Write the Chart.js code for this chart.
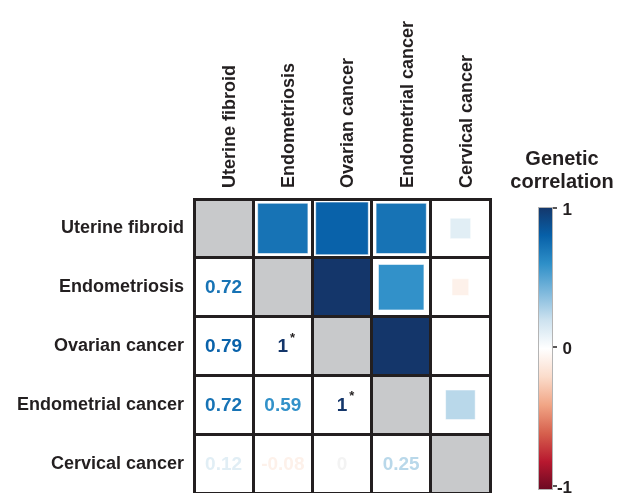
<!DOCTYPE html>
<html>
<head>
<meta charset="utf-8">
<script src="https://cdn.jsdelivr.net/npm/chart.js@4.4.0/dist/chart.umd.min.js"></script>
<style>
  html, body { margin: 0; padding: 0; background: #fff; }
  #wrap { width: 619px; height: 493px; }
</style>
</head>
<body>
<div id="wrap"><canvas id="corr"></canvas></div>
<script>
var traits = ['Uterine fibroid', 'Endometriosis', 'Ovarian cancer', 'Endometrial cancer', 'Cervical cancer'];

// genetic correlation, one row per trait (symmetric)
var rgUterine = [1, 0.72, 0.79, 0.72, 0.12];
var rgEndometriosis = [0.72, 1, 1, 0.59, -0.08];
var rgOvarian = [0.79, 1, 1, 1, 0];
var rgEndometrial = [0.72, 0.59, 1, 1, 0.25];
var rgCervical = [0.12, -0.08, 0, 0.25, 1];

// [row, col] of the lower cells marked with *
var starred = [[2, 1], [3, 2]];

var legendTicks = [1, 0, -1];
var legendTitle = ['Genetic', 'correlation'];

// red-white-blue ramp, -1 .. 1 in steps of 0.2
var ramp = ['#6a0a22', '#b8182f', '#d6604d', '#f1a585', '#fbdccb', '#ffffff',
  '#cde2ef', '#7db8dc', '#2e8fc8', '#0760a8', '#14366a'];

var matrix = [rgUterine, rgEndometriosis, rgOvarian, rgEndometrial, rgCervical];
var ink = '#231f20';
var fontFamily = '"Liberation Sans", Arial, sans-serif';

function hexRgb(h) {
  return [parseInt(h.substr(1, 2), 16), parseInt(h.substr(3, 2), 16), parseInt(h.substr(5, 2), 16)];
}

function rampColor(v) {
  var t = (Math.max(-1, Math.min(1, v)) + 1) / 2 * (ramp.length - 1);
  var i = Math.min(Math.floor(t), ramp.length - 2), f = t - i;
  var a = hexRgb(ramp[i]), b = hexRgb(ramp[i + 1]);
  return 'rgb(' + [0, 1, 2].map(function (k) { return Math.round(a[k] + (b[k] - a[k]) * f); }).join(',') + ')';
}

function isStarred(i, j) {
  return starred.some(function (s) { return s[0] === i && s[1] === j; });
}

function pitch(chart) {
  var xs = chart.scales.x;
  return Math.abs(xs.getPixelForValue(1) - xs.getPixelForValue(0));
}

var diagPts = traits.map(function (t) { return {x: t, y: t}; });
var upperPts = [];
matrix.forEach(function (row, i) {
  row.forEach(function (v, j) {
    if (j > i) upperPts.push({x: traits[j], y: traits[i], v: v});
  });
});

var cellText = {
  id: 'cellText',
  afterDraw: function (chart) {
    var ctx = chart.ctx, xs = chart.scales.x, ys = chart.scales.y;
    ctx.save();
    ctx.textBaseline = 'middle';
    matrix.forEach(function (row, i) {
      row.forEach(function (v, j) {
        if (j >= i) return;
        var x = xs.getPixelForValue(j), y = ys.getPixelForValue(i) + 1;
        var txt = String(v);
        ctx.font = 'bold 19px ' + fontFamily;
        ctx.fillStyle = v === 0 ? '#f3f3f3' : rampColor(v);
        ctx.textAlign = 'center';
        ctx.fillText(txt, x, y);
        if (isStarred(i, j)) {
          var w = ctx.measureText(txt).width;
          ctx.font = 'bold 13px ' + fontFamily;
          ctx.fillStyle = ink;
          ctx.textAlign = 'left';
          ctx.fillText('*', x + w / 2 + 2, y - 9);
        }
      });
    });
    ctx.restore();
  }
};

var colorBar = {
  id: 'colorBar',
  afterDraw: function (chart) {
    var ctx = chart.ctx, area = chart.chartArea;
    var left = area.right + 48, w = 15;
    var top = area.top + 8, bottom = area.bottom - 3;
    var yTop = top + 1, yBot = bottom - 4;
    var grad = ctx.createLinearGradient(0, top, 0, bottom);
    ramp.forEach(function (c, k) { grad.addColorStop(1 - k / (ramp.length - 1), c); });
    ctx.save();
    ctx.fillStyle = grad;
    ctx.fillRect(left, top, w, bottom - top);
    ctx.strokeStyle = '#b4b4b4';
    ctx.lineWidth = 1;
    ctx.strokeRect(left + 0.5, top + 0.5, w - 1, bottom - top - 1);
    ctx.strokeStyle = ink;
    ctx.lineWidth = 1.5;
    ctx.font = 'bold 17px ' + fontFamily;
    ctx.fillStyle = ink;
    ctx.textAlign = 'right';
    ctx.textBaseline = 'middle';
    legendTicks.forEach(function (v) {
      var y = yBot - (v + 1) / 2 * (yBot - yTop);
      ctx.beginPath();
      ctx.moveTo(left + w, y);
      ctx.lineTo(left + w + 4, y);
      ctx.stroke();
      ctx.fillText(String(v), left + w + 19, y + 2);
    });
    ctx.font = 'bold 20px ' + fontFamily;
    ctx.textAlign = 'center';
    ctx.textBaseline = 'alphabetic';
    legendTitle.forEach(function (s, k) {
      ctx.fillText(s, left + 24, area.top - 34 + k * 23);
    });
    ctx.restore();
  }
};

var gridOpts = {offset: true, color: ink, lineWidth: 3, drawTicks: false, z: 1};
var borderOpts = {color: ink, width: 3, z: 2};

function noPadding(s) {
  s.paddingTop = 0;
  s.paddingBottom = 0;
  s.paddingLeft = 0;
  s.paddingRight = 0;
}

new Chart(document.getElementById('corr'), {
  type: 'scatter',
  data: {
    datasets: [
      {
        data: diagPts,
        pointStyle: 'rect',
        backgroundColor: '#c8c9cb',
        borderWidth: 0,
        pointRadius: function (c) { return pitch(c.chart) / Math.SQRT2; }
      },
      {
        data: upperPts,
        pointStyle: 'rect',
        borderWidth: 1,
        borderColor: 'rgba(255,255,255,0.55)',
        backgroundColor: function (c) { return c.raw ? rampColor(c.raw.v) : '#fff'; },
        pointRadius: function (c) {
          if (!c.raw) return 0;
          return Math.sqrt(Math.abs(c.raw.v)) * pitch(c.chart) / Math.SQRT2;
        }
      }
    ]
  },
  plugins: [cellText, colorBar],
  options: {
    responsive: true,
    maintainAspectRatio: false,
    animation: false,
    events: [],
    layout: {padding: {right: 129, bottom: 0, top: 0, left: 0}},
    plugins: {legend: {display: false}, tooltip: {enabled: false}},
    scales: {
      x: {
        type: 'category',
        labels: traits,
        position: 'top',
        offset: true,
        grid: gridOpts,
        border: borderOpts,
        ticks: {
          minRotation: 90, maxRotation: 90, padding: 11, labelOffset: 28, color: ink,
          font: {family: fontFamily, size: 18, weight: 'bold'}
        },
        afterFit: function (s) { s.height = 199; noPadding(s); }
      },
      y: {
        type: 'category',
        labels: traits,
        offset: true,
        grid: gridOpts,
        border: borderOpts,
        ticks: {
          padding: 10, color: ink,
          font: {family: fontFamily, size: 18, weight: 'bold'}
        },
        afterFit: function (s) { s.width = 194; noPadding(s); }
      }
    }
  }
});
</script>
</body>
</html>
